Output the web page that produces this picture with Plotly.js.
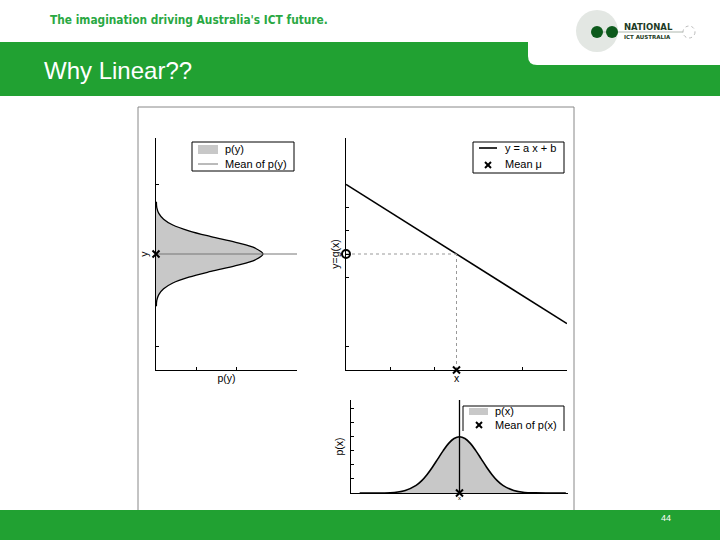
<!DOCTYPE html>
<html><head><meta charset="utf-8">
<script src="https://cdn.plot.ly/plotly-3.0.1.min.js"></script>
<style>html,body{margin:0;padding:0;background:#fff}#chart{width:720px;height:540px}</style>
</head><body><div id="chart"></div>
<script>
// ---- data ----
// p(y): density of y, drawn sideways (value along x, y along y)
const pyY = [-4.5,-4,-3.5,-3,-2.5,-2,-1.5,-1,-0.5,0,0.5,1,1.5,2,2.5,3,3.5,4,4.5];
const pyVal = [0.001,0.002,0.007,0.019,0.042,0.082,0.137,0.199,0.248,0.267,0.248,0.199,0.137,0.082,0.042,0.019,0.007,0.002,0.001];
const meanY = [0];
// linear map y = a x + b
const lineX = [0, 10];
const lineY = [6, -6];
const meanX = [5];
// p(x): density of x
const pxX = [0.4,1,1.5,2,2.5,3,3.25,3.5,3.75,4,4.25,4.5,4.75,5,5.25,5.5,5.75,6,6.25,6.5,6.75,7,7.5,8,8.5,9,9.9];
const pxVal = [0,0,0,0.004,0.018,0.054,0.086,0.130,0.183,0.242,0.301,0.352,0.387,0.399,0.387,0.352,0.301,0.242,0.183,0.130,0.086,0.054,0.018,0.004,0.001,0,0];
// axis ranges / ticks
const yRange = [-10, 10];
const xRange = [0, 10];
const pyRange = [0, 0.352];
const pxRange = [0, 0.66];
const leftYTicks = [6, -8];
const leftXTicks = [0.1, 0.2];
const rightYTicks = [4, 2, 0, -2, -8];
const rightXTicks = [2, 4, 8, 10];
const bottomYTicks = [0.1, 0.2, 0.3, 0.4, 0.5, 0.6];
// legend labels
const legLeft = ['p(y)', 'Mean of p(y)'];
const legRight = ['y = a x + b', 'Mean \u03bc'];
const legBottom = ['p(x)', 'Mean of p(x)'];

// ---- helpers for pixel placement ----
const W = 720, H = 540;
const fx = x => x / W, fy = y => 1 - y / H;
const FONT = 'Liberation Sans, Arial, Helvetica, sans-serif';
const GRAY = '#c8c8c8';
const XM = {symbol:'x-thin', size:7, color:'#000', line:{color:'#000', width:2}};

const traces = [
  // left: p(y)
  {x: pyVal, y: pyY, xaxis:'x', yaxis:'y', type:'scatter', mode:'lines', fill:'tozerox', fillcolor:GRAY,
   line:{width:0, shape:'spline'}, name:legLeft[0]},
  {x: pyVal, y: pyY, xaxis:'x', yaxis:'y', type:'scatter', mode:'lines', line:{color:'#000', width:1.3, shape:'spline'}},
  {x: pyRange, y: [meanY[0], meanY[0]], xaxis:'x', yaxis:'y', type:'scatter', mode:'lines', line:{color:'#777', width:1}, name:legLeft[1]},
  {x: [0], y: meanY, xaxis:'x', yaxis:'y', type:'scatter', mode:'markers', cliponaxis:false, marker:XM},
  // right: y = a x + b
  {x: lineX, y: lineY, xaxis:'x2', yaxis:'y2', type:'scatter', mode:'lines', line:{color:'#000', width:1.6}, name:legRight[0]},
  {x: [meanX[0], meanX[0]], y: [yRange[0], meanY[0]], xaxis:'x2', yaxis:'y2', type:'scatter', mode:'lines',
   line:{color:'#999', width:1, dash:'dot'}},
  {x: [xRange[0], meanX[0]], y: [meanY[0], meanY[0]], xaxis:'x2', yaxis:'y2', type:'scatter', mode:'lines',
   line:{color:'#999', width:1, dash:'dot'}},
  {x: meanX, y: [yRange[0]], xaxis:'x2', yaxis:'y2', type:'scatter', mode:'markers', cliponaxis:false, marker:XM, name:legRight[1]},
  {x: [xRange[0]], y: meanY, xaxis:'x2', yaxis:'y2', type:'scatter', mode:'markers', cliponaxis:false,
   marker:{symbol:'circle-open', size:8, color:'#000', line:{color:'#000', width:2}}},
  // bottom: p(x)
  {x: pxX, y: pxVal, xaxis:'x3', yaxis:'y3', type:'scatter', mode:'lines', fill:'tozeroy', fillcolor:GRAY,
   line:{width:0, shape:'spline'}, name:legBottom[0]},
  {x: pxX, y: pxVal, xaxis:'x3', yaxis:'y3', type:'scatter', mode:'lines', line:{color:'#000', width:1.6, shape:'spline'}},
  {x: [meanX[0], meanX[0]], y: pxRange, xaxis:'x3', yaxis:'y3', type:'scatter', mode:'lines', line:{color:'#000', width:1.3}},
  {x: meanX, y: [0], xaxis:'x3', yaxis:'y3', type:'scatter', mode:'markers', cliponaxis:false, marker:XM, name:legBottom[1]}
];

const axBase = {showgrid:false, zeroline:false, showline:true, linecolor:'#000', linewidth:1, mirror:false,
  ticks:'inside', ticklen:3, tickcolor:'#000', tickwidth:1, showticklabels:false, fixedrange:true};

const P = (o) => Object.assign({xref:'paper', yref:'paper'}, o);
const rectPx = (x0, y0, x1, y1, fill, line, layer) => P({type:'rect', x0:fx(x0), x1:fx(x1), y0:fy(y1), y1:fy(y0),
  fillcolor:fill, line:line || {width:0}, layer:layer || 'above'});
const linePx = (x0, y0, x1, y1, line) => P({type:'line', x0:fx(x0), x1:fx(x1), y0:fy(y0), y1:fy(y1), line:line});
const crossPx = (cx, cy) => [linePx(cx-3, cy-3, cx+3, cy+3, {color:'#000', width:2}), linePx(cx-3, cy+3, cx+3, cy-3, {color:'#000', width:2})];
const textPx = (x, y, text, size, extra) => P(Object.assign({x:fx(x), y:fy(y), xanchor:'left', yanchor:'middle', showarrow:false,
  text:text, font:{family:FONT, size:size, color:'#000'}}, extra || {}));

const shapes = [
  rectPx(138, 107, 574, 511, '#fff', {color:'#888', width:1}, 'below'),
  rectPx(0, 42, 720, 96, '#21a132', null, 'below'),
  P({type:'path', layer:'below', fillcolor:'#fff', line:{width:0},
     path:`M ${fx(528)},${fy(41)} L 1,${fy(41)} L 1,${fy(65)} L ${fx(537)},${fy(65)} Q ${fx(528)},${fy(65)} ${fx(528)},${fy(56)} Z`}),
  rectPx(0, 510, 720, 540, '#21a132', null, 'below'),
  // logo
  P({type:'circle', x0:fx(576), x1:fx(618), y0:fy(52), y1:fy(10), fillcolor:'#e3e7e3', line:{width:0}, layer:'below'}),
  linePx(600, 32, 684, 32, {color:'#9aa59a', width:0.8}),
  P({type:'circle', x0:fx(591), x1:fx(603), y0:fy(38), y1:fy(26), fillcolor:'#0d5a1c', line:{width:0}}),
  P({type:'circle', x0:fx(606), x1:fx(618), y0:fy(38), y1:fy(26), fillcolor:'#0d5a1c', line:{width:0}}),
  P({type:'circle', x0:fx(683), x1:fx(695), y0:fy(38), y1:fy(26), fillcolor:'#fff', line:{color:'#aaa', width:0.8, dash:'dot'}}),
  // legend left
  rectPx(192, 142, 294, 171, '#fff', {color:'#000', width:1}),
  rectPx(198, 145, 218, 154, GRAY, null),
  linePx(198, 164, 218, 164, {color:'#777', width:1}),
  // legend right
  rectPx(473, 142, 564, 173, '#fff', {color:'#000', width:1}),
  linePx(479, 148, 497, 148, {color:'#000', width:1.6}),
  ...crossPx(488, 165),
  // legend bottom (open at the bottom)
  rectPx(463, 406, 564, 431, '#fff', null),
  linePx(463, 431, 463, 406, {color:'#000', width:1}),
  linePx(463, 406, 564, 406, {color:'#000', width:1}),
  linePx(564, 406, 564, 431, {color:'#000', width:1}),
  rectPx(469, 408, 488, 415, GRAY, null),
  ...crossPx(479, 425)
];

const layout = {
  width: W, height: H, margin:{l:0, r:0, t:0, b:0}, paper_bgcolor:'#fff', plot_bgcolor:'rgba(0,0,0,0)',
  font:{family:FONT, color:'#000'}, showlegend:false,
  xaxis: Object.assign({}, axBase, {domain:[fx(156), fx(297)], range:pyRange, tickvals:leftXTicks, anchor:'y',
    title:{text:'p(y)', font:{size:10.5}, standoff:4}}),
  yaxis: Object.assign({}, axBase, {domain:[fy(370), fy(138)], range:yRange, tickvals:leftYTicks, anchor:'x',
    title:{text:'y', font:{size:10.5}, standoff:4}}),
  xaxis2: Object.assign({}, axBase, {domain:[fx(346), fx(567)], range:xRange, tickvals:rightXTicks, anchor:'y2',
    title:{text:'x', font:{size:10.5}, standoff:4}}),
  yaxis2: Object.assign({}, axBase, {domain:[fy(370), fy(138)], range:yRange, tickvals:rightYTicks, anchor:'x2',
    title:{text:'y=g(x)', font:{size:10.5}, standoff:3}}),
  xaxis3: Object.assign({}, axBase, {domain:[fx(351), fx(568)], range:xRange, ticks:'', anchor:'y3',
    title:{text:'x', font:{size:6}, standoff:2}}),
  yaxis3: Object.assign({}, axBase, {domain:[fy(493), fy(400)], range:pxRange, tickvals:bottomYTicks, anchor:'x3',
    title:{text:'p(x)', font:{size:10.5}, standoff:4}}),
  shapes: shapes,
  annotations: [
    P({x:fx(48), y:fy(20), xanchor:'left', yanchor:'middle', showarrow:false,
     text:"The imagination driving Australia's ICT future.", font:{family:'DejaVu Sans Condensed, DejaVu Sans, sans-serif', size:11.8, color:'#2aa843', weight:'bold'}}),
    P({x:fx(42), y:fy(70), xanchor:'left', yanchor:'middle', showarrow:false,
     text:'Why Linear??', font:{family:FONT, size:24, color:'#fff'}}),
    P({x:fx(622), y:fy(27), xanchor:'left', yanchor:'middle', showarrow:false,
     text:'<b>NATIONAL</b>', font:{family:'DejaVu Sans, sans-serif', size:8.5, color:'#1d3b25'}}),
    P({x:fx(622), y:fy(37), xanchor:'left', yanchor:'middle', showarrow:false,
     text:'<b>ICT AUSTRALIA</b>', font:{family:'DejaVu Sans, sans-serif', size:5.5, color:'#1d3b25'}}),
    P({x:fx(666), y:fy(518), xanchor:'center', yanchor:'middle', showarrow:false,
     text:'44', font:{family:FONT, size:9, color:'#fff'}}),
    textPx(223, 149, legLeft[0], 11),
    textPx(223, 164, legLeft[1], 11),
    textPx(503, 148, legRight[0], 11),
    textPx(503, 164, legRight[1], 11),
    textPx(493, 411, legBottom[0], 11),
    textPx(493, 425, legBottom[1], 11)
  ]
};

Plotly.newPlot('chart', traces, layout, {staticPlot:true, displayModeBar:false});
</script></body></html>
